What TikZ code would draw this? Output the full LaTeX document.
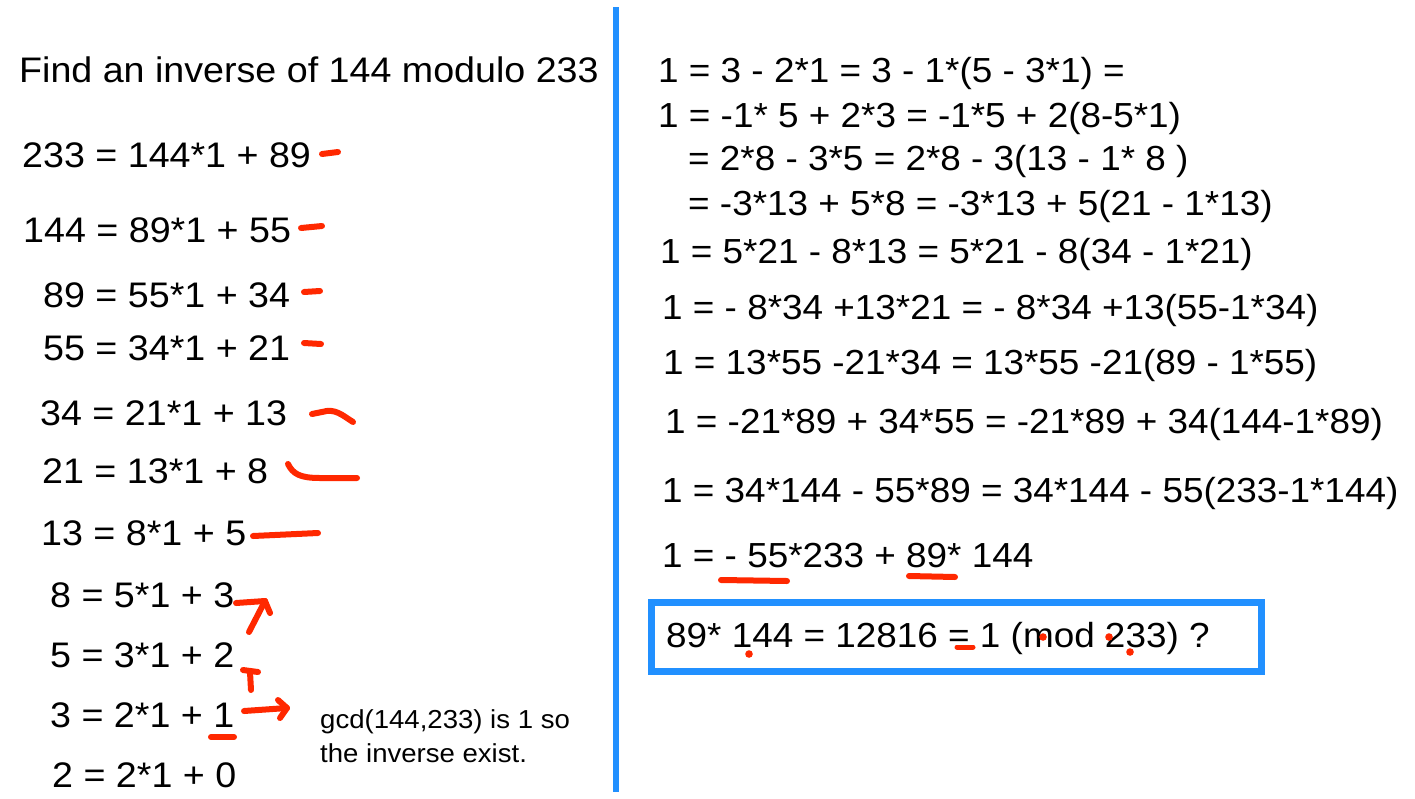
\documentclass[tikz,border=0pt]{standalone}
\usepackage{fontspec}
\setmainfont{Liberation Sans}[FakeStretch=1.06]
\usetikzlibrary{calc}
\definecolor{penRed}{RGB}{255,40,0}
\definecolor{lineBlue}{RGB}{33,144,255}
\tikzset{
	equation/.style={anchor=base west, inner sep=0pt, font=\fontsize{35.5}{42}\selectfont},
	step line/.style={equation, font=\fontsize{34.8}{42}\selectfont},
	note/.style={anchor=base west, inner sep=0pt, font=\fontsize{26}{34}\selectfont},
	pen/.style={penRed, line width=6pt, line cap=round, line join=round}
}
\newcommand{\drawEquation}[4]{
	\node[equation] (#1) at (#2,#3) {#4};
}
\newcommand{\drawStep}[4]{
	\node[step line] (#1) at (#2,#3) {#4};
}
\newcommand{\drawPenDot}[2]{
	\fill[penRed] (#1,#2) circle (3.8pt);
}
\newcommand{\drawPenArrow}[4]{
	\draw[pen] (#1) -- (#2);
	\draw[pen] (#3) -- (#2) -- (#4);
}

\begin{document}
\begin{tikzpicture}[x=1pt, y=-1pt]
	\useasboundingbox (0,0) rectangle (1415,798);

	\drawEquation{title}{19}{82}{Find an inverse of 144 modulo 233}
	\drawEquation{eqA}{22}{167}{233 = 144*1 + 89}
	\drawEquation{eqB}{23}{242}{144 = 89*1 + 55}
	\drawEquation{eqC}{43}{307}{89 = 55*1 + 34}
	\drawEquation{eqD}{43}{360}{55 = 34*1 + 21}
	\drawEquation{eqE}{40}{425}{34 = 21*1 + 13}
	\drawEquation{eqF}{42}{483}{21 = 13*1 + 8}
	\drawEquation{eqG}{41}{545}{13 = 8*1 + 5}
	\drawEquation{eqH}{50}{607}{8 = 5*1 + 3}
	\drawEquation{eqI}{50}{667}{5 = 3*1 + 2}
	\drawEquation{eqJ}{50}{727}{3 = 2*1 + 1}
	\drawEquation{eqK}{52}{787}{2 = 2*1 + 0}
	\node[note] (gcdA) at (320,728) {gcd(144,233) is 1 so};
	\node[note] (gcdB) at (320,762) {the inverse exist.};

	\draw[lineBlue, line width=6pt] (616,7) -- (616,792);

	\drawStep{stepA}{658}{82}{1 = 3 - 2*1 = 3 - 1*(5 - 3*1) =}
	\drawStep{stepB}{658}{127}{1 = -1* 5 + 2*3 = -1*5 + 2(8-5*1)}
	\drawStep{stepC}{688}{170}{= 2*8 - 3*5 = 2*8 - 3(13 - 1* 8 )}
	\drawStep{stepD}{688}{215}{= -3*13 + 5*8 = -3*13 + 5(21 - 1*13)}
	\drawStep{stepE}{660}{263}{1 = 5*21 - 8*13 = 5*21 - 8(34 - 1*21)}
	\drawStep{stepF}{662}{319}{1 = - 8*34 +13*21 = - 8*34 +13(55-1*34)}
	\drawStep{stepG}{663}{374}{1 = 13*55 -21*34 = 13*55 -21(89 - 1*55)}
	\drawStep{stepH}{665}{433}{1 = -21*89 + 34*55 = -21*89 + 34(144-1*89)}
	\drawStep{stepI}{662}{502}{1 = 34*144 - 55*89 = 34*144 - 55(233-1*144)}
	\drawStep{stepJ}{662}{567}{1 = - 55*233 + 89* 144}
	\drawStep{result}{666}{647}{89* 144 = 12816 = 1 (mod 233) ?}
	\draw[lineBlue, line width=7pt] (651,602) rectangle (1261,671);

	\draw[pen] (322,154) -- (338,152);
	\draw[pen] (301,228) -- (322,226);
	\draw[pen] (304,292) -- (320,291);
	\draw[pen] (304,343) -- (321,344);
	\draw[pen] (312,414) -- (322,412) .. controls (335,408) and (342,415) .. (353,422);
	\draw[pen] (288,464) .. controls (293,474) and (300,478) .. (320,478) -- (357,478);
	\draw[pen] (253,536) -- (318,533);

	\coordinate (upTail) at (249,632);
	\coordinate (upTip) at (265,601);
	\coordinate (upBarbL) at (236,603);
	\coordinate (upBarbR) at (270,613);
	\drawPenArrow{upTail}{upTip}{upBarbL}{upBarbR}
	\draw[pen] (243,670) -- (258,672);
	\draw[pen] (250,672) -- (251,690);
	\coordinate (gcdTail) at (244,711);
	\coordinate (gcdTip) at (287,708);
	\coordinate (gcdBarbT) at (278,700);
	\coordinate (gcdBarbB) at (280,718);
	\drawPenArrow{gcdTail}{gcdTip}{gcdBarbT}{gcdBarbB}
	\draw[pen] (211,737) -- (234,737);

	\draw[pen] (721,580) -- (787,581);
	\draw[pen] (909,576) -- (955,577);
	\draw[pen, line width=5pt] (957,647) -- (973,647);
	\drawPenDot{749}{654}
	\drawPenDot{1043}{637}
	\drawPenDot{1109}{637}
	\drawPenDot{1130}{652}
\end{tikzpicture}
\end{document}
